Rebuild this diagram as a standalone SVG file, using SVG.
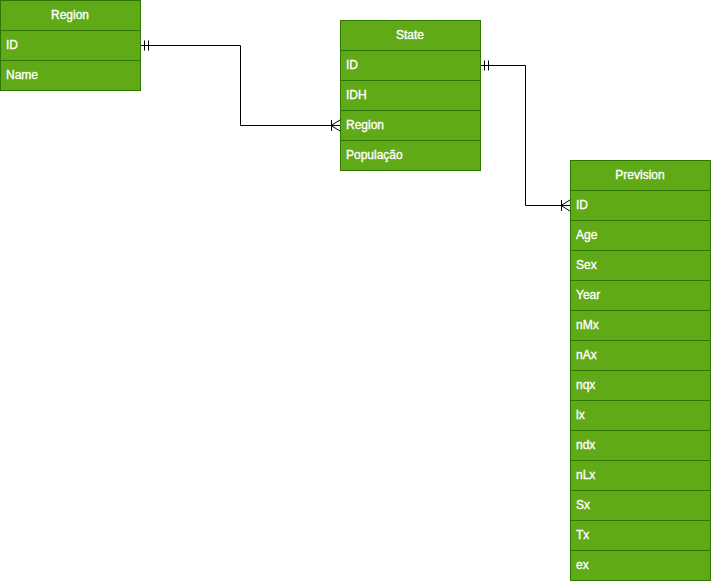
<svg xmlns="http://www.w3.org/2000/svg" width="711" height="581" viewBox="0 0 711 581">
<style>
.t{fill:#60a917;stroke:#2d7600;stroke-width:1}
.h{font-family:"Liberation Sans",Arial,sans-serif;font-size:12px;fill:#ffffff;stroke:#ffffff;stroke-width:0.35;text-anchor:middle}
.r{font-family:"Liberation Sans",Arial,sans-serif;font-size:12px;fill:#ffffff;stroke:#ffffff;stroke-width:0.35}
.c{fill:none;stroke:#000000;stroke-width:1}
</style>
<rect width="711" height="581" fill="#ffffff"/>
<g id="region">
<rect class="t" x="0.5" y="0.5" width="140" height="30"/>
<rect class="t" x="0.5" y="30.5" width="140" height="30"/>
<rect class="t" x="0.5" y="60.5" width="140" height="30"/>
<text class="h" x="70" y="19">Region</text>
<text class="r" x="6" y="49">ID</text>
<text class="r" x="6" y="79">Name</text>
</g>
<g id="state">
<rect class="t" x="340.5" y="20.5" width="140" height="30"/>
<rect class="t" x="340.5" y="50.5" width="140" height="30"/>
<rect class="t" x="340.5" y="80.5" width="140" height="30"/>
<rect class="t" x="340.5" y="110.5" width="140" height="30"/>
<rect class="t" x="340.5" y="140.5" width="140" height="30"/>
<text class="h" x="410" y="39">State</text>
<text class="r" x="346" y="69">ID</text>
<text class="r" x="346" y="99">IDH</text>
<text class="r" x="346" y="129">Region</text>
<text class="r" x="346" y="159">População</text>
</g>
<g id="prevision">
<rect class="t" x="570.5" y="160.5" width="140" height="30"/>
<rect class="t" x="570.5" y="190.5" width="140" height="30"/>
<rect class="t" x="570.5" y="220.5" width="140" height="30"/>
<rect class="t" x="570.5" y="250.5" width="140" height="30"/>
<rect class="t" x="570.5" y="280.5" width="140" height="30"/>
<rect class="t" x="570.5" y="310.5" width="140" height="30"/>
<rect class="t" x="570.5" y="340.5" width="140" height="30"/>
<rect class="t" x="570.5" y="370.5" width="140" height="30"/>
<rect class="t" x="570.5" y="400.5" width="140" height="30"/>
<rect class="t" x="570.5" y="430.5" width="140" height="30"/>
<rect class="t" x="570.5" y="460.5" width="140" height="30"/>
<rect class="t" x="570.5" y="490.5" width="140" height="30"/>
<rect class="t" x="570.5" y="520.5" width="140" height="30"/>
<rect class="t" x="570.5" y="550.5" width="140" height="30"/>
<text class="h" x="640" y="179">Prevision</text>
<text class="r" x="576" y="209">ID</text>
<text class="r" x="576" y="239">Age</text>
<text class="r" x="576" y="269">Sex</text>
<text class="r" x="576" y="299">Year</text>
<text class="r" x="576" y="329">nMx</text>
<text class="r" x="576" y="359">nAx</text>
<text class="r" x="576" y="389">nqx</text>
<text class="r" x="576" y="419">lx</text>
<text class="r" x="576" y="449">ndx</text>
<text class="r" x="576" y="479">nLx</text>
<text class="r" x="576" y="509">Sx</text>
<text class="r" x="576" y="539">Tx</text>
<text class="r" x="576" y="569">ex</text>
</g>
<g id="connectors">
<path class="c" d="M141 45.5 H240.5 V125.5 H340"/>
<path class="c" d="M144.5 40.5 V50.5 M148.5 40.5 V50.5"/>
<path class="c" d="M331.5 120 V131 M331 125.5 L340 120 M331 125.5 L340 131"/>
<path class="c" d="M481 65.5 H525.5 V205.5 H570"/>
<path class="c" d="M484.5 60.5 V70.5 M488.5 60.5 V70.5"/>
<path class="c" d="M561.5 200 V211 M561 205.5 L570 200 M561 205.5 L570 211"/>
</g>
</svg>
